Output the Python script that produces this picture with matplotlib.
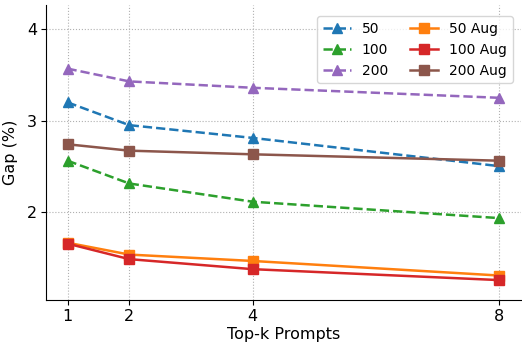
import matplotlib
matplotlib.use("Agg")
import matplotlib.pyplot as plt

matplotlib.rcParams['font.family'] = 'DejaVu Sans'

topk = [1, 2, 4, 8]
gap_50 = [3.20, 2.95, 2.81, 2.50]
gap_100 = [2.56, 2.31, 2.11, 1.93]
gap_200 = [3.57, 3.43, 3.36, 3.25]
gap_50_aug = [1.66, 1.53, 1.46, 1.30]
gap_100_aug = [1.65, 1.48, 1.37, 1.25]
gap_200_aug = [2.74, 2.67, 2.63, 2.56]

fig, ax = plt.subplots(figsize=(5.22, 3.45), dpi=100)

ax.plot(topk, gap_50, "--^", color="#1f77b4", label="50", ms=7, lw=1.8)
ax.plot(topk, gap_100, "--^", color="#2ca02c", label="100", ms=7, lw=1.8)
ax.plot(topk, gap_200, "--^", color="#9467bd", label="200", ms=7, lw=1.8)
ax.plot(topk, gap_50_aug, "-s", color="#ff7f0e", label="50 Aug", ms=7, lw=1.8)
ax.plot(topk, gap_100_aug, "-s", color="#d62728", label="100 Aug", ms=7, lw=1.8)
ax.plot(topk, gap_200_aug, "-s", color="#8c564b", label="200 Aug", ms=7, lw=1.8)

ax.set_xticks(topk)
ax.set_yticks([2, 3, 4])
ax.set_xlim(0.65, 8.35)
ax.set_ylim(1.03, 4.27)
ax.set_xlabel("Top-k Prompts", fontsize=11.5, labelpad=2)
ax.set_ylabel("Gap (%)", fontsize=11.5, labelpad=6)
ax.tick_params(labelsize=11.5, pad=3)
ax.grid(True, linestyle=":", color="#b0b0b0", lw=0.8)
ax.spines["top"].set_visible(False)
ax.spines["right"].set_visible(False)
ax.legend(ncol=2, fontsize=10, loc="upper right", columnspacing=1.6,
          bbox_to_anchor=(0.997, 0.985))

fig.subplots_adjust(left=0.088, right=0.998, bottom=0.13, top=0.986)
plt.savefig("out.png", dpi=100)
